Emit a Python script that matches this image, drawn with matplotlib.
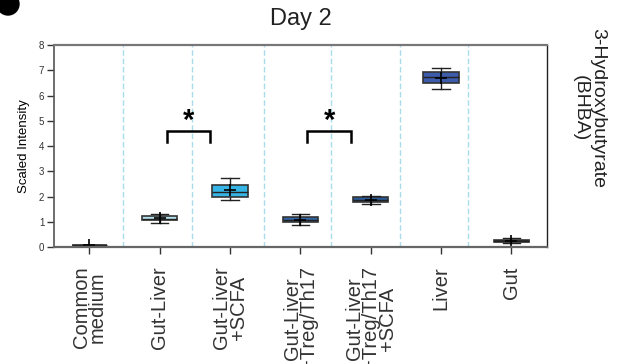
import numpy as np
import matplotlib
matplotlib.use("Agg")
import matplotlib.pyplot as plt
from matplotlib.patches import Circle

plt.rcParams['font.family'] = ['Liberation Sans', 'DejaVu Sans']

# data
categories = ["Common\nmedium", "Gut-Liver", "Gut-Liver\n+SCFA", "Gut-Liver\n+Treg/Th17",
              "Gut-Liver\n+Treg/Th17\n+SCFA", "Liver", "Gut"]
whislo = [0.05, 0.95, 1.85, 0.88, 1.70, 6.25, 0.15]
q1 = [0.06, 1.07, 1.99, 0.98, 1.78, 6.48, 0.19]
med = [0.07, 1.12, 2.18, 1.08, 1.87, 6.74, 0.23]
q3 = [0.08, 1.24, 2.47, 1.19, 1.97, 6.93, 0.29]
whishi = [0.09, 1.30, 2.72, 1.30, 2.02, 7.08, 0.34]
means = [0.07, 1.14, 2.25, 1.07, 1.88, 6.70, 0.24]
box_colors = ["#111111", "#b4e2ee", "#35b5e6", "#3166a6", "#2b5c9a", "#3d5bab", "#111111"]
sig_pairs = [(2, 3), (4, 5)]
separators = [1.48, 2.46, 3.49, 4.43, 5.42, 6.38]
yticks = [0, 1, 2, 3, 4, 5, 6, 7, 8]

fig = plt.figure(figsize=(6.17, 3.64), dpi=100)
ax = fig.add_axes([0.0875, 0.3214, 0.7985, 0.5549])

pos = np.arange(1, len(categories) + 1)
stats = []
for i in range(len(categories)):
    stats.append(dict(whislo=whislo[i], q1=q1[i], med=med[i], q3=q3[i],
                      whishi=whishi[i], mean=means[i], fliers=[]))

for s in separators:
    ax.axvline(s, color="#a9dbe9", lw=1, ls=(0, (4, 2)), zorder=0)

bp = ax.bxp(stats, positions=pos, widths=0.5, patch_artist=True, showmeans=True,
            meanprops=dict(marker="+", markeredgecolor="black", markersize=8, mew=1.2),
            medianprops=dict(color="#222222", lw=1),
            whiskerprops=dict(color="#222222", lw=1),
            capprops=dict(color="#222222", lw=1),
            boxprops=dict(edgecolor="#333333", lw=1.2), capwidths=0.25)
for patch, c in zip(bp['boxes'], box_colors):
    patch.set_facecolor(c)

# significance brackets
for a, b in sig_pairs:
    x0 = a + 0.1
    x1 = b - 0.28
    ax.plot([x0, x0, x1, x1], [4.17, 4.6, 4.6, 4.17], color="black", lw=1.8,
            solid_joinstyle="miter")
    ax.text((x0 + x1) / 2, 4.45, "*", ha="center", va="bottom", fontsize=21,
            fontweight="bold")

ax.set_xlim(0.5, 7.5)
ax.set_ylim(0, 8)
ax.set_yticks(yticks)
ax.set_xticks(pos)
ax.set_xticklabels(categories, rotation=90, fontsize=14.5, linespacing=0.82,
                   multialignment="center", color="#222222")
ax.tick_params(axis="y", labelsize=7, length=5, width=1, colors="#333333", pad=2)
ax.tick_params(axis="x", length=5, width=1, colors="#333333", pad=9)
ax.set_ylabel("Scaled Intensity", fontsize=9.5, labelpad=6)

ax.spines['top'].set_color("#777777")
ax.spines['top'].set_linewidth(1.6)
ax.spines['bottom'].set_color("#666666")
ax.spines['bottom'].set_linewidth(1.6)
ax.spines['left'].set_color("#555555")
ax.spines['left'].set_linewidth(1.2)
ax.spines['right'].set_color("#222222")
ax.spines['right'].set_linewidth(1)

fig.text(0.487, 0.948, "Day 2", ha="center", va="center", fontsize=17, color="#222222")
fig.text(0.955, 0.703, "3-Hydroxybutyrate\n(BHBA)", ha="center", va="center",
         rotation=-90, fontsize=14, color="#222222", linespacing=1.0)

fig.add_artist(Circle((0.08, 3.60), 0.11, transform=fig.dpi_scale_trans,
                      color="black", clip_on=False))

fig.savefig("out.png", dpi=100)
